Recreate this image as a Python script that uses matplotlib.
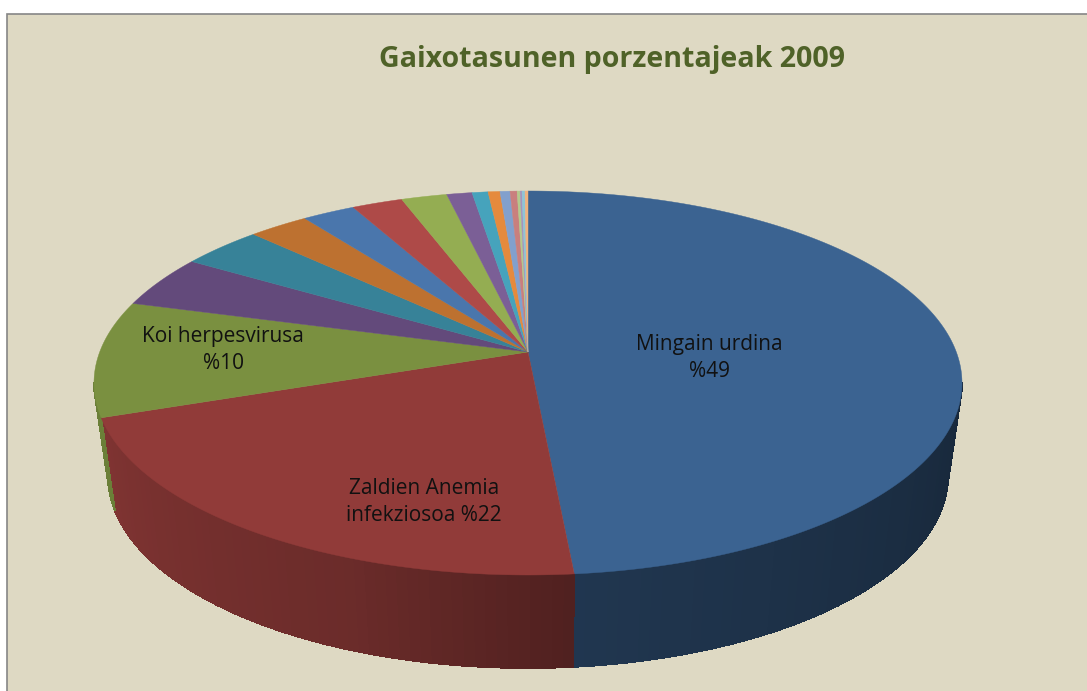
"""Gaixotasunen porzentajeak 2009: fake 3D pie, faces and wall drawn as polygons in pixel coordinates."""
import numpy as np
import matplotlib; matplotlib.use("Agg")
import matplotlib.pyplot as plt
from matplotlib.patches import Polygon, Rectangle

TITLE = "Gaixotasunen porzentajeak 2009"
# shares as they appear on screen (the printed labels are rounded differently by the original)
values = [48.3, 23.8, 9.7, 4.1, 3.2, 2.3, 2.0, 1.9, 1.7, 0.94, 0.59, 0.44, 0.37, 0.26, 0.11, 0.07, 0.11, 0.11]
colors = ["#3b6391", "#913b39", "#7a9040", "#634a7b", "#378298", "#bd7130", "#4a76ac", "#ae4a48", "#94ad52",
          "#7b5f96", "#46a3bc", "#e58a3d", "#82a0cd", "#c97f7e", "#b4c98c", "#a593bd", "#8fc4d6", "#f0b27e"]
labels = {0: "Mingain urdina\n%49", 1: "Zaldien Anemia\ninfekziosoa %22", 2: "Koi herpesvirusa\n%10"}
label_pos = {0: (709, 358), 1: (424, 502), 2: (223, 350)}

BG = "#ded9c3"
CX, CY, RX, RY = 528, 383, 434, 192      # top face ellipse
BX, BY, BRX, BRY = 528, 476, 420, 192    # bottom rim, narrower for the perspective
APEX = (528, 352)

plt.rcParams["font.family"] = ["Open Sans", "DejaVu Sans"]
fig = plt.figure(figsize=(10.87, 6.91), dpi=100, facecolor="white")
ax = fig.add_axes([0, 0, 1, 1])
ax.set_xlim(0, 1087); ax.set_ylim(691, 0); ax.axis("off")
ax.add_patch(Rectangle((7, 14), 1100, 700, fc=BG, ec="#868686", lw=1.2, zorder=0))


def top_pt(t):
    return CX + RX * np.sin(t), CY - RY * np.cos(t)


def bot_pt(t):
    return BX + BRX * np.sin(t), BY - BRY * np.cos(t)


def shade(deg):
    return np.interp(deg, [90, 174, 205, 260], [0.40, 0.55, 0.74, 0.88])


edges = np.cumsum([0] + values) / sum(values) * 360

# side wall, only what faces the viewer
for i, c in enumerate(colors[:3]):
    lo, hi = edges[i], edges[i + 1]
    steps = np.arange(lo, hi, 1.5).tolist() + [hi]
    for a, b in zip(steps[:-1], steps[1:]):
        if b <= 90 or a >= 270:
            continue
        ta = np.radians(np.linspace(a, b, 4))
        xy = [top_pt(t) for t in ta] + [bot_pt(t) for t in ta[::-1]]
        rgb = np.array(matplotlib.colors.to_rgb(c)) * shade((a + b) / 2)
        ax.add_patch(Polygon(xy, fc=rgb, ec=rgb, lw=0.6, antialiased=False, zorder=1))

# top face
for i, c in enumerate(colors):
    ts = np.radians(np.linspace(edges[i], edges[i + 1], max(3, int(values[i] * 8))))
    xy = [APEX] + [top_pt(t) for t in ts]
    ax.add_patch(Polygon(xy, fc=c, ec=c, lw=0.3, zorder=2))

for i, s in labels.items():
    x, y = label_pos[i]
    ax.text(x, y, s, ha="center", va="center", fontsize=15, color="#111111", linespacing=1.35, zorder=3)

ax.text(612, 59, TITLE, ha="center", va="center", fontsize=20.6, fontweight="bold", color="#4f6228", zorder=3)

fig.savefig("out.png", dpi=100)
